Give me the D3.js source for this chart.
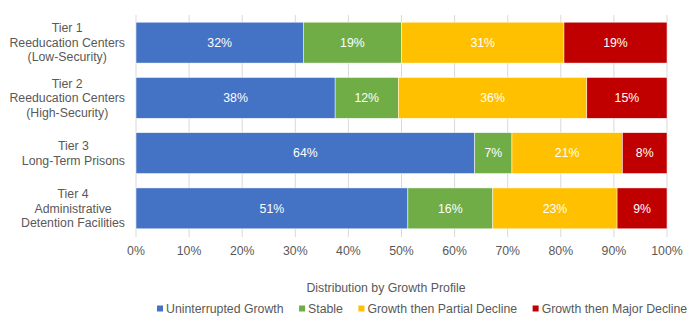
<!DOCTYPE html>
<html>
<head>
<meta charset="utf-8">
<script src="https://cdn.jsdelivr.net/npm/d3@7"></script>
<style>
  body { margin: 0; background: #fff; }
  text { font-family: "Liberation Sans", Arial, sans-serif; }
</style>
</head>
<body>
<div id="chart"></div>
<script>
// Categories (one array of lines per bar)
const categories = [
  ["Tier 1", "Reeducation Centers", "(Low-Security)"],
  ["Tier 2", "Reeducation Centers", "(High-Security)"],
  ["Tier 3", "Long-Term Prisons"],
  ["Tier 4", "Administrative", "Detention Facilities"]
];

// Series names and colours
const seriesNames = ["Uninterrupted Growth", "Stable", "Growth then Partial Decline", "Growth then Major Decline"];
const seriesColors = ["#4472C4", "#70AD47", "#FFC000", "#C00000"];

// Values in percent
const uninterrupted = [31.5, 37.5, 63.8, 51.2];
const stable = [18.5, 11.9, 7.0, 16.0];
const partialDecline = [30.6, 35.5, 20.8, 23.4];
const majorDecline = [19.4, 15.1, 8.4, 9.4];

const xTicks = [0, 10, 20, 30, 40, 50, 60, 70, 80, 90, 100];

const width = 700, height = 325;
const textColor = "#595959";
const fontSize = "12.3px";

const svg = d3.select("#chart").append("svg")
    .attr("width", width)
    .attr("height", height);

// build table for d3.stack
const seriesArrays = [uninterrupted, stable, partialDecline, majorDecline];
const table = categories.map((c, i) => {
    const row = { index: i };
    seriesNames.forEach((s, j) => row[s] = seriesArrays[j][i]);
    return row;
});
const stacked = d3.stack().keys(seriesNames)(table);

const x = d3.scaleLinear().domain([0, 100]).range([136, 667]);
const y = d3.scaleBand()
    .domain(categories.map((c, i) => i))
    .range([15, 236])
    .paddingInner(0.26)
    .paddingOuter(0.13);

// gridlines
svg.append("g").selectAll("line")
    .data(xTicks)
    .enter().append("line")
    .attr("x1", d => x(d)).attr("x2", d => x(d))
    .attr("y1", 15).attr("y2", 237)
    .attr("stroke", "#d9d9d9")
    .attr("stroke-width", 1);

// bars
const layers = svg.append("g").selectAll("g")
    .data(stacked)
    .enter().append("g")
    .attr("fill", (d, i) => seriesColors[i]);

layers.selectAll("rect")
    .data(d => d)
    .enter().append("rect")
    .attr("x", d => x(d[0]))
    .attr("y", d => y(d.data.index))
    .attr("width", d => x(d[1]) - x(d[0]))
    .attr("height", y.bandwidth())
    .attr("stroke", "#fff")
    .attr("stroke-width", 0.5);

// data labels
layers.selectAll("text")
    .data(d => d)
    .enter().append("text")
    .attr("x", d => (x(d[0]) + x(d[1])) / 2)
    .attr("y", d => y(d.data.index) + y.bandwidth() / 2)
    .attr("dy", "0.35em")
    .attr("text-anchor", "middle")
    .attr("fill", "#fff")
    .style("font-size", fontSize)
    .text(d => Math.round(d[1] - d[0]) + "%");

// x tick labels
svg.append("g").selectAll("text")
    .data(xTicks)
    .enter().append("text")
    .attr("x", d => x(d))
    .attr("y", 251)
    .attr("dy", "0.35em")
    .attr("text-anchor", "middle")
    .attr("fill", textColor)
    .style("font-size", fontSize)
    .text(d => d + "%");

// category labels: each block centred, right edge near the axis
const lineH = 14.5;
const labelRight = 125;
categories.forEach((lines, i) => {
    const g = svg.append("g");
    const texts = g.selectAll("text")
        .data(lines)
        .enter().append("text")
        .attr("text-anchor", "middle")
        .attr("dy", "0.35em")
        .attr("fill", textColor)
        .style("font-size", fontSize)
        .text(d => d);
    let maxW = 0;
    texts.each(function() { maxW = Math.max(maxW, this.getComputedTextLength()); });
    const cy = y(i) + y.bandwidth() / 2;
    texts.attr("x", labelRight - maxW / 2)
        .attr("y", (d, k) => cy + (k - (lines.length - 1) / 2) * lineH);
});

// axis title
svg.append("text")
    .attr("x", 386)
    .attr("y", 287.5)
    .attr("dy", "0.35em")
    .attr("text-anchor", "middle")
    .attr("fill", textColor)
    .style("font-size", fontSize)
    .text("Distribution by Growth Profile");

// legend
const legend = svg.append("g");
const items = legend.selectAll("g")
    .data(seriesNames)
    .enter().append("g");
items.append("rect")
    .attr("width", 6).attr("height", 6)
    .attr("y", 308.5 - 3)
    .attr("fill", (d, i) => seriesColors[i]);
items.append("text")
    .attr("x", 9)
    .attr("y", 308.5)
    .attr("dy", "0.35em")
    .attr("fill", textColor)
    .style("font-size", fontSize)
    .text(d => d);
let lx = 157;
items.each(function() {
    const w = d3.select(this).select("text").node().getComputedTextLength();
    d3.select(this).attr("transform", `translate(${lx},0)`);
    lx += 9 + w + 15.5;
});
</script>
</body>
</html>
